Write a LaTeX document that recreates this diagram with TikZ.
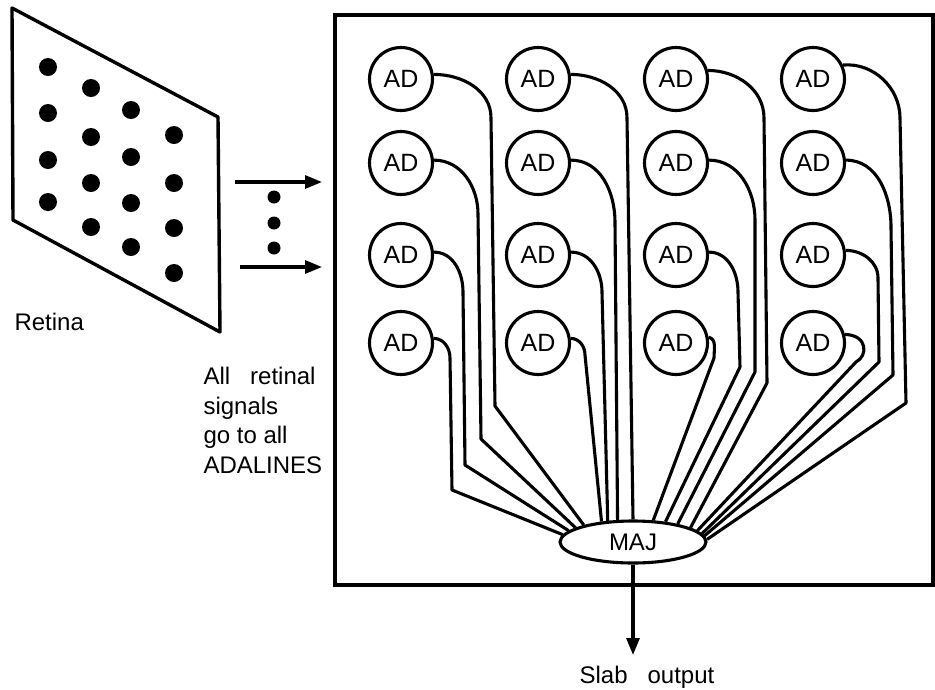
\documentclass[tikz,border=0pt]{standalone}
\usepackage{fontspec}
\setmainfont{Liberation Sans}
\usetikzlibrary{arrows.meta,shapes.geometric}

\begin{document}
\begin{tikzpicture}[x=1pt,y=-1pt,line width=3.1pt,
  font=\fontsize{24}{29.5}\selectfont,
  ad/.style={draw, circle, minimum size=63pt, inner sep=0pt, font=\fontsize{25}{30}\selectfont},
  wire/.style={line join=round},
  sig/.style={-{Triangle[length=17pt,width=13pt]}}]
\useasboundingbox (0,0) rectangle (935,689);

% Retina
\draw[line width=3.4pt, line join=round] (12,8) -- (218,117) -- (220,332) -- (13,220) -- cycle;
\fill (48,67) circle (9pt) (48,113) circle (9pt) (48,160) circle (9pt) (48,202) circle (9pt);
\fill (91,88) circle (9pt) (91,137) circle (9pt) (91,183) circle (9pt) (91,227) circle (9pt);
\fill (131,110) circle (9pt) (131,157) circle (9pt) (131,203) circle (9pt) (131,247) circle (9pt);
\fill (174,135) circle (9pt) (174,183) circle (9pt) (174,228) circle (9pt) (174,273) circle (9pt);
\node[anchor=base west, inner sep=0pt] (retina) at (13,330) {Retina};

% Signals into the slab
\coordinate (sigA) at (235,182);
\coordinate (sigB) at (322,182);
\coordinate (sigC) at (240,267);
\coordinate (sigD) at (322,267);
\draw[sig] (sigA) -- (sigB);
\draw[sig] (sigC) -- (sigD);
\fill (274,197) circle (6.5pt) (274,223) circle (6.5pt) (274,248) circle (6.5pt);
\node[anchor=north west, align=left, inner sep=0pt] (note) at (202,366)
  {All~~~retinal\\signals\\go to all\\ADALINES};

% Slab
\draw (335,15) rectangle (933,585);

% ADALINES
\node[ad] (ad11) at (401,79) {AD};
\node[ad] (ad12) at (401,163) {AD};
\node[ad] (ad13) at (401,255) {AD};
\node[ad] (ad14) at (401,343) {AD};
\node[ad] (ad21) at (538,79) {AD};
\node[ad] (ad22) at (538,163) {AD};
\node[ad] (ad23) at (538,255) {AD};
\node[ad] (ad24) at (538,343) {AD};
\node[ad] (ad31) at (676,79) {AD};
\node[ad] (ad32) at (676,163) {AD};
\node[ad] (ad33) at (676,255) {AD};
\node[ad] (ad34) at (676,343) {AD};
\node[ad] (ad41) at (813,79) {AD};
\node[ad] (ad42) at (813,163) {AD};
\node[ad] (ad43) at (813,255) {AD};
\node[ad] (ad44) at (813,343) {AD};

% Majority element
\node[draw, ellipse, minimum width=146pt, minimum height=42pt, inner sep=0pt,
  font=\fontsize{24}{28}\selectfont] (maj) at (633,542) {MAJ};

% Wires, column 1
\draw[wire] (ad11.8) to[out=0,in=90] (491,118) -- (495,406) -- (maj.161);
\draw[wire] (ad12.5) to[out=0,in=90] (478,214) -- (481,439) -- (maj.166);
\draw[wire] (ad13.5) to[out=0,in=90] (463,292) -- (465,465) -- (maj.170);
\draw[wire] (ad14.8) to[out=0,in=90] (450,358) -- (452,490) -- (maj.174);
% Wires, column 2
\draw[wire] (ad21.8) to[out=0,in=90] (627,118) -- (maj.90);
\draw[wire] (ad22.5) to[out=0,in=90] (615,222) -- (maj.125);
\draw[wire] (ad23.5) to[out=0,in=90] (602,292) -- (maj.140);
\draw[wire] (ad24.8) to[out=0,in=90] (585,355) -- (maj.147);
% Wires, column 3
\draw[wire] (ad31.15) to[out=0,in=90] (764,118) -- (767,383) -- (maj.14);
\draw[wire] (ad32.5) to[out=0,in=90] (755,220) -- (755,372) -- (maj.22);
\draw[wire] (ad33.5) to[out=0,in=90] (738,292) -- (740,367) -- (maj.32);
\draw[wire] (ad34.10) to[out=-10,in=90] (714,358) -- (maj.47);
% Wires, column 4
\draw[wire] (ad41.25) to[out=5,in=90] (900,118) -- (906,403) -- (maj.2);
\draw[wire] (ad42.5) to[out=0,in=90] (891,227) -- (893,375) -- (maj.5);
\draw[wire] (ad43.8) to[out=0,in=90] (878,278) -- (879,362) -- (maj.7);
\draw[wire] (ad44.15) .. controls (868,335) and (868,356) .. (856,362) -- (maj.10);

% Output
\coordinate (slabout) at (633,655);
\draw[sig] (maj.south) -- (slabout);
\node[anchor=base, inner sep=0pt] (outlabel) at (647,683) {Slab~~~output};
\end{tikzpicture}
\end{document}
